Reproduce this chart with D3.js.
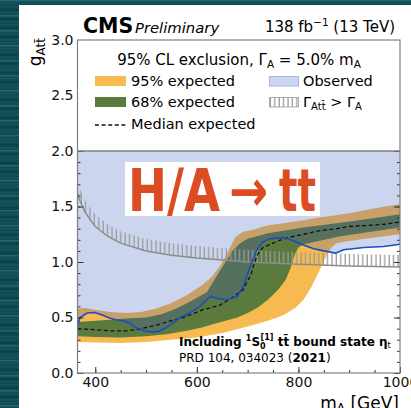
<!DOCTYPE html>
<html><head><meta charset="utf-8">
<script src="https://cdn.jsdelivr.net/npm/d3@7"></script>
<style>
html,body{margin:0;padding:0;background:#0e4852;overflow:hidden}
svg{display:block}
text{font-family:"DejaVu Sans",sans-serif}
</style></head><body>
<svg id="c" width="411" height="408"></svg>
<script>
// ---- data ----
const massObs=[365,370,384,399,415,425,440,455,468,475,485,495,510,525,540,550,567,585,606,620,628,640,660,680,693,705,718,730,744,771,791,811,830,850,873,889,929,968,1000];
const obs=[0.43,0.50,0.54,0.545,0.52,0.50,0.48,0.47,0.45,0.42,0.40,0.38,0.37,0.375,0.41,0.44,0.50,0.54,0.60,0.66,0.69,0.67,0.66,0.69,0.80,0.96,1.11,1.18,1.21,1.22,1.19,1.15,1.12,1.10,1.08,1.11,1.13,1.14,1.16];

const massMed=[365,380,400,430,460,480,500,520,540,567,590,612,645,670,691,700,706,713,720,730,745,760,780,810,840,875,900,940,970,1000];
const median=[0.40,0.395,0.39,0.38,0.38,0.39,0.41,0.43,0.46,0.49,0.53,0.57,0.61,0.68,0.75,0.83,0.88,0.99,1.07,1.13,1.16,1.19,1.22,1.25,1.28,1.30,1.32,1.33,1.34,1.36];

const massUp95=[365,380,400,430,460,490,520,550,580,610,630,645,660,675,690,710,740,770,800,840,870,900,935,970,1000];
const up95=[0.58,0.585,0.57,0.55,0.54,0.55,0.58,0.63,0.70,0.79,0.87,0.96,1.08,1.22,1.27,1.29,1.33,1.35,1.37,1.40,1.42,1.44,1.47,1.50,1.52];

const massLo95=[365,400,450,500,550,600,650,700,740,770,795,810,825,840,850,858,865,875,900,950,1000];
const lo95=[0.28,0.275,0.27,0.28,0.30,0.32,0.36,0.42,0.47,0.52,0.59,0.66,0.77,0.91,1.01,1.08,1.13,1.17,1.19,1.22,1.25];

const massUp68=[365,400,430,460,500,530,560,590,620,640,655,670,685,700,740,810,875,940,1000];
const up68=[0.46,0.47,0.48,0.49,0.50,0.53,0.58,0.65,0.73,0.88,0.99,1.10,1.17,1.21,1.26,1.31,1.35,1.39,1.43];

const massLo68=[365,400,450,500,540,580,610,640,680,700,720,740,760,775,785,793,800,810,840,880,940,1000];
const lo68=[0.33,0.325,0.32,0.33,0.35,0.38,0.41,0.45,0.50,0.54,0.59,0.66,0.75,0.84,0.95,1.07,1.13,1.16,1.19,1.23,1.27,1.31];

const massW=[365,370,380,390,400,425,450,500,550,600,700,800,900,1000];
const widthLimit=[1.62,1.55,1.45,1.38,1.32,1.23,1.17,1.10,1.06,1.035,1.0,0.98,0.965,0.955];

const yTicks=[0,0.5,1.0,1.5,2.0];
const yTicksUpper=[2.5,3.0];
const xTicks=[400,600,800,1000];

// ---- colours ----
const C={blue:"#ccd5ee",orange:"#f6ba50",olive:"#5b7a3e",tan:"#c8a16a",slate:"#55705f",obs:"#1a4cc4",frame:"#808080"};

const svg=d3.select("#c");
// background slide
svg.append("rect").attr("width",411).attr("height",408).attr("fill","#0f4a55");
const streaks=d3.range(0,408,3);
svg.append("g").selectAll("rect").data(streaks).join("rect")
  .attr("x",0).attr("y",d=>d).attr("width",411).attr("height",1.5)
  .attr("fill",(d,i)=>i%5===0?"#2a6b74":(i%3===0?"#0a3d47":"#16555f")).attr("opacity",0.8);
svg.append("rect").attr("x",19).attr("y",5).attr("width",392).attr("height",403).attr("fill","#fff");

const x=d3.scaleLinear().domain([365,1000]).range([77.5,400]);
const y=d3.scaleLinear().domain([0,3]).range([373,40]);
const pts=(ms,gs)=>ms.map((m,i)=>[x(m),y(gs[i])]);
const line=d3.line();

const defs=svg.append("defs");
defs.append("clipPath").attr("id","plot").append("rect").attr("x",x(365)).attr("y",y(2)).attr("width",x(1000)-x(365)).attr("height",y(0)-y(2));
const obsPts=pts(massObs,obs);
defs.append("clipPath").attr("id","above").append("path")
  .attr("d",line(obsPts.concat([[x(1000),y(2)],[x(365),y(2)]]))+"Z");
defs.append("clipPath").attr("id","below").append("path")
  .attr("d",line(obsPts.concat([[x(1000),y(0)],[x(365),y(0)]]))+"Z");
const pat=defs.append("pattern").attr("id","hatch").attr("patternUnits","userSpaceOnUse").attr("width",4.4).attr("height",40);
pat.append("line").attr("x1",2).attr("x2",2).attr("y1",0).attr("y2",40).attr("stroke","#9a9a9a").attr("stroke-width",1.3);

const g=svg.append("g").attr("clip-path","url(#plot)");
// observed exclusion region
g.append("path").attr("d",line(obsPts.concat([[x(1000),y(2)],[x(365),y(2)]]))+"Z").attr("fill",C.blue);

const band95=line(pts(massUp95,up95).concat(pts(massLo95,lo95).reverse()))+"Z";
const band68=line(pts(massUp68,up68).concat(pts(massLo68,lo68).reverse()))+"Z";
const gb=g.append("g").attr("clip-path","url(#below)");
gb.append("path").attr("d",band95).attr("fill",C.orange);
gb.append("path").attr("d",band68).attr("fill",C.olive);
const ga=g.append("g").attr("clip-path","url(#above)");
ga.append("path").attr("d",band95).attr("fill",C.tan);
ga.append("path").attr("d",band68).attr("fill",C.slate);

// width limit with hatching
const wData=massW.map((m,i)=>[m,widthLimit[i]]);
g.append("path").datum(wData)
  .attr("d",d3.area().x(d=>x(d[0])).y0(d=>y(d[1])).y1(d=>y(d[1])-12)).attr("fill","url(#hatch)");
g.append("path").datum(wData).attr("d",d3.line().x(d=>x(d[0])).y(d=>y(d[1])))
  .attr("fill","none").attr("stroke","#8c8c8c").attr("stroke-width",1.5);

// median
g.append("path").attr("d",line(pts(massMed,median))).attr("fill","none").attr("stroke","#111").attr("stroke-width",1.3).attr("stroke-dasharray","4,2.6");
// observed
g.append("path").attr("d",line(obsPts)).attr("fill","none").attr("stroke",C.obs).attr("stroke-width",1.6);

// axes
const fmt=d3.format(".1f");
function styleAxis(sel){sel.select(".domain").remove();sel.selectAll("line").attr("stroke","#333");sel.selectAll("text").attr("font-family","DejaVu Sans").attr("font-size",14).attr("fill","#111");}
svg.append("g").attr("transform",`translate(${x(365)},0)`).call(d3.axisLeft(y).tickValues(d3.range(0,2.001,0.1)).tickSizeInner(-3).tickSizeOuter(0).tickFormat("")).call(styleAxis);
svg.append("g").attr("transform",`translate(${x(365)},0)`).call(d3.axisLeft(y).tickValues(yTicks).tickSizeInner(-6).tickSizeOuter(0).tickPadding(4).tickFormat(fmt)).call(styleAxis);
svg.append("g").attr("transform",`translate(${x(365)},0)`).call(d3.axisLeft(y).tickValues(yTicksUpper).tickSizeInner(0).tickSizeOuter(0).tickPadding(4).tickFormat(fmt)).call(styleAxis);
svg.append("g").attr("transform",`translate(${x(1000)},0)`).call(d3.axisRight(y).tickValues(d3.range(0,2.001,0.1)).tickSizeInner(-3).tickSizeOuter(0).tickFormat("")).call(styleAxis);
svg.append("g").attr("transform",`translate(${x(1000)},0)`).call(d3.axisRight(y).tickValues(yTicks).tickSizeInner(-6).tickSizeOuter(0).tickFormat("")).call(styleAxis);
svg.append("g").attr("transform",`translate(0,${y(0)})`).call(d3.axisBottom(x).tickValues(d3.range(400,1001,50)).tickSizeInner(-3).tickSizeOuter(0).tickFormat("")).call(styleAxis);
svg.append("g").attr("transform",`translate(0,${y(0)})`).call(d3.axisBottom(x).tickValues(xTicks).tickSizeInner(-6).tickSizeOuter(0).tickPadding(4).tickFormat(d3.format("d"))).call(styleAxis);

// frame
svg.append("rect").attr("x",x(365)).attr("y",y(3)).attr("width",x(1000)-x(365)).attr("height",y(0)-y(3)).attr("fill","none").attr("stroke",C.frame).attr("stroke-width",1.2);
svg.append("line").attr("x1",x(365)).attr("x2",x(1000)).attr("y1",y(2)).attr("y2",y(2)).attr("stroke",C.frame).attr("stroke-width",1.5);

// title box
svg.append("rect").attr("x",125).attr("y",162).attr("width",195).attr("height",54).attr("fill","#fff");
const tAttr=s=>s.attr("font-family","Liberation Sans").attr("font-weight","bold").attr("fill","#dd4b22");
svg.append("text").attr("x",128).attr("y",211).attr("font-size",58).attr("textLength",92).attr("lengthAdjust","spacingAndGlyphs").call(tAttr).text("H/A");
svg.append("text").attr("x",229).attr("y",211).attr("font-size",58).attr("textLength",39).attr("lengthAdjust","spacingAndGlyphs").call(tAttr).attr("font-family","DejaVu Sans").text("\u2192");
svg.append("text").attr("x",279).attr("y",211).attr("font-size",58).attr("textLength",37).attr("lengthAdjust","spacingAndGlyphs").call(tAttr).text("tt");

// CMS header
svg.append("text").attr("x",83).attr("y",33).attr("font-family","Liberation Sans").attr("font-weight","bold").attr("font-size",20.5).attr("fill","#000").text("CMS");
svg.append("text").attr("x",135).attr("y",33).attr("font-family","Liberation Sans").attr("font-style","italic").attr("font-size",14.8).attr("fill","#000").text("Preliminary");
const lum=svg.append("text").attr("x",395).attr("y",32).attr("text-anchor","end").attr("font-size",15).attr("fill","#000");
lum.append("tspan").text("138 fb");
lum.append("tspan").attr("font-size",10.5).attr("dy",-6).text("\u22121");
lum.append("tspan").attr("dy",6).text(" (13 TeV)");

// y label
const yl=svg.append("text").attr("transform","translate(41,38) rotate(-90)").attr("text-anchor","end").attr("font-size",17).attr("fill","#000");
yl.append("tspan").text("g");
yl.append("tspan").attr("font-size",12).attr("dy",4).text("At\u0074\u0304");
// x label
const xl=svg.append("text").attr("x",399).attr("y",409).attr("text-anchor","end").attr("font-size",17).attr("fill","#000");
xl.append("tspan").text("m");
xl.append("tspan").attr("font-size",12).attr("dy",3).text("A");
xl.append("tspan").attr("dy",-3).text(" [GeV]");

// legend
const L=svg.append("g").attr("font-size",14.5).attr("fill","#000");
const hdr=L.append("text").attr("x",239).attr("y",65).attr("text-anchor","middle").attr("font-size",15);
hdr.append("tspan").text("95% CL exclusion, \u0393");
hdr.append("tspan").attr("font-size",10.5).attr("dy",3).text("A");
hdr.append("tspan").attr("dy",-3).text(" = 5.0% m");
hdr.append("tspan").attr("font-size",10.5).attr("dy",3).text("A");
L.append("rect").attr("x",95).attr("y",76).attr("width",31).attr("height",10).attr("fill",C.orange);
L.append("text").attr("x",131).attr("y",86).text("95% expected");
L.append("rect").attr("x",95).attr("y",97).attr("width",31).attr("height",10).attr("fill",C.olive);
L.append("text").attr("x",131).attr("y",107).text("68% expected");
L.append("line").attr("x1",95).attr("x2",126).attr("y1",125).attr("y2",125).attr("stroke","#111").attr("stroke-width",1.3).attr("stroke-dasharray","4,2.6");
L.append("text").attr("x",131).attr("y",129).text("Median expected");
L.append("rect").attr("x",269.5).attr("y",76.5).attr("width",29).attr("height",9.5).attr("fill",C.blue).attr("stroke","#aab6de");
L.append("text").attr("x",303).attr("y",86).text("Observed");
L.append("rect").attr("x",269.5).attr("y",97.5).attr("width",29).attr("height",9.5).attr("fill","url(#hatch)").attr("stroke","#aaa");
const hl=L.append("text").attr("x",303).attr("y",107);
hl.append("tspan").text("\u0393");
hl.append("tspan").attr("font-size",10).attr("dy",3).text("At\u0074\u0304");
hl.append("tspan").attr("dy",-3).text(" > \u0393");
hl.append("tspan").attr("font-size",10).attr("dy",3).text("A");

// annotation
const an=svg.append("text").attr("x",179).attr("y",346).attr("font-size",12).attr("font-weight","bold").attr("fill","#000");
an.append("tspan").text("Including ");
an.append("tspan").attr("font-size",8).attr("dy",-5).text("1");
an.append("tspan").attr("dy",5).text("S");
an.append("tspan").attr("font-size",8).attr("dy",3).text("0");
an.append("tspan").attr("font-size",8).attr("dx",-5).attr("dy",-9).text("[1]");
an.append("tspan").attr("dy",6).text(" tt\u0304 bound state \u03b7");
an.append("tspan").attr("font-size",8).attr("font-weight","normal").attr("dy",2).text("t");
const an2=svg.append("text").attr("x",179).attr("y",362).attr("font-size",12).attr("fill","#000");
an2.append("tspan").text("PRD 104, 034023 (");
an2.append("tspan").attr("font-weight","bold").text("2021");
an2.append("tspan").text(")");
</script>
</body></html>
